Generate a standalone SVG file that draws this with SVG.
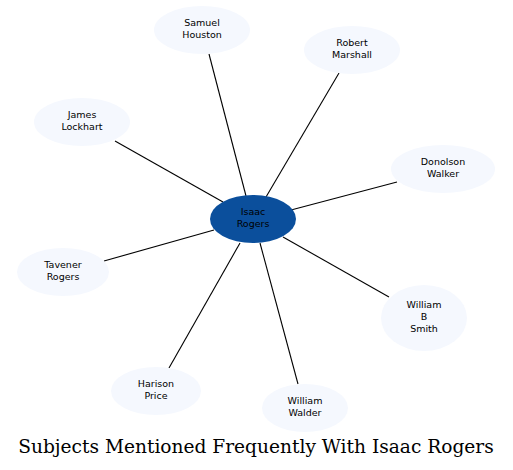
<svg xmlns="http://www.w3.org/2000/svg" width="513" height="470" viewBox="0 0 513 470">
<style>
.n ellipse{fill:#f5f8fe;stroke:none}
.n text{font-family:"DejaVu Sans",sans-serif;font-size:9.5px;fill:#000;text-anchor:middle}
#c line{stroke:#000;stroke-width:1.1}
.title{font-family:"DejaVu Serif",serif;font-size:18.6px;text-anchor:middle;fill:#000}
</style>
<rect width="513" height="470" fill="#fff"/>
<g id="c">
<line x1="209" y1="54" x2="246" y2="196"/>
<line x1="339" y1="73" x2="266" y2="197"/>
<line x1="115" y1="141" x2="223" y2="202"/>
<line x1="397" y1="182" x2="291" y2="210"/>
<line x1="104" y1="261" x2="214" y2="230"/>
<line x1="389" y1="297" x2="283" y2="237"/>
<line x1="169" y1="368" x2="240" y2="243"/>
<line x1="298" y1="384" x2="260" y2="243"/>
</g>
<g id="samuel" class="n"><ellipse cx="202" cy="30" rx="48" ry="24"/><text x="202" y="26">Samuel</text><text x="202" y="38">Houston</text></g>
<g id="robert" class="n"><ellipse cx="352" cy="50" rx="48" ry="24"/><text x="352" y="46">Robert</text><text x="352" y="58">Marshall</text></g>
<g id="james" class="n"><ellipse cx="82" cy="122" rx="48" ry="24"/><text x="82" y="118">James</text><text x="82" y="130">Lockhart</text></g>
<g id="donolson" class="n"><ellipse cx="443" cy="169" rx="52" ry="24"/><text x="443" y="165">Donolson</text><text x="443" y="177">Walker</text></g>
<g id="isaac" class="n"><ellipse cx="253" cy="219" rx="43" ry="24" style="fill:#0b4f9c"/><text x="253" y="215">Isaac</text><text x="253" y="227">Rogers</text></g>
<g id="tavener" class="n"><ellipse cx="63" cy="272" rx="46" ry="24"/><text x="63" y="268">Tavener</text><text x="63" y="280">Rogers</text></g>
<g id="wbsmith" class="n"><ellipse cx="424" cy="318" rx="43" ry="33"/><text x="424" y="308">William</text><text x="424" y="320">B</text><text x="424" y="332">Smith</text></g>
<g id="harison" class="n"><ellipse cx="156" cy="391" rx="45" ry="24"/><text x="156" y="387">Harison</text><text x="156" y="399">Price</text></g>
<g id="walder" class="n"><ellipse cx="305" cy="408" rx="43" ry="24"/><text x="305" y="404">William</text><text x="305" y="416">Walder</text></g>
<text class="title" x="256" y="453">Subjects Mentioned Frequently With Isaac Rogers</text>
</svg>
